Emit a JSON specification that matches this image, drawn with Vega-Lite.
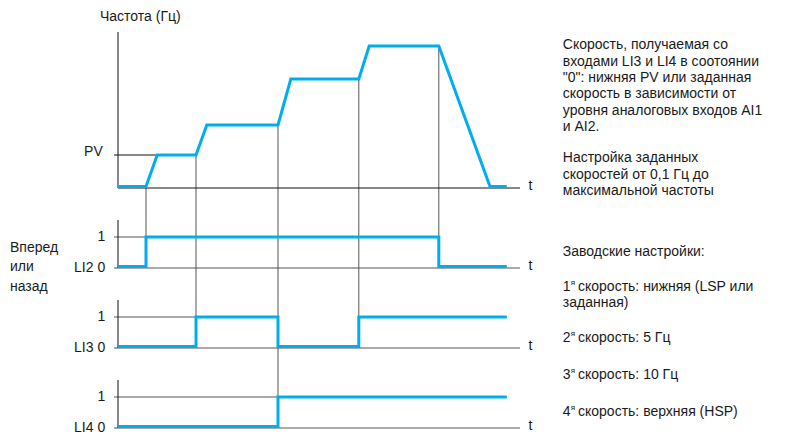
{
  "$schema": "https://vega.github.io/schema/vega-lite/v6.json",
  "padding": 0,
  "spacing": 0,
  "bounds": "flush",
  "background": "white",
  "config": {"view": {"stroke": null}, "text": {"font": "Liberation Sans", "fontSize": 14, "color": "#1a1a1a", "baseline": "middle"}},
  "vconcat": [
    {
      "width": 800, "height": 204,
      "encoding": {
        "x": {"field": "t", "type": "quantitative", "scale": {"domain": [-14.75, 85.25], "nice": false, "zero": false}, "axis": null},
        "y": {"field": "v", "type": "quantitative", "scale": {"domain": [-1.6, 18.8], "nice": false, "zero": false}, "axis": null}
      },
      "layer": [
        {"data": {"values": [{"t": 3.5, "t2": 3.5, "v": 0, "v2": -1.6}, {"t": 9.75, "t2": 9.75, "v": 3.3, "v2": -1.6}, {"t": 20, "t2": 20, "v": 6.3, "v2": -1.6}, {"t": 30.1, "t2": 30.1, "v": 10.9, "v2": -1.6}, {"t": 40.1, "t2": 40.1, "v": 14.2, "v2": -1.6}]},
         "mark": {"type": "rule", "color": "#555", "strokeWidth": 1},
         "encoding": {"x2": {"field": "t2"}, "y2": {"field": "v2"}}},
        {"data": {"values": [{"t": 0, "t2": 0, "v": 0, "v2": 15.6}, {"t": 0, "t2": 50.25, "v": 0, "v2": 0}, {"t": -0.5, "t2": 4.9, "v": 3.3, "v2": 3.3}]},
         "mark": {"type": "rule", "color": "#111", "strokeWidth": 1},
         "encoding": {"x2": {"field": "t2"}, "y2": {"field": "v2"}}},
        {"data": {"values": [{"i": 1, "t": 0, "v": 0.15}, {"i": 2, "t": 3.5, "v": 0.15}, {"i": 3, "t": 4.9, "v": 3.3}, {"i": 4, "t": 9.75, "v": 3.3}, {"i": 5, "t": 11.1, "v": 6.3}, {"i": 6, "t": 20, "v": 6.3}, {"i": 7, "t": 21.6, "v": 10.9}, {"i": 8, "t": 30.1, "v": 10.9}, {"i": 9, "t": 31.4, "v": 14.2}, {"i": 10, "t": 40.1, "v": 14.2}, {"i": 11, "t": 46.5, "v": 0.15}, {"i": 12, "t": 48.6, "v": 0.15}]},
         "mark": {"type": "line", "color": "#00adef", "strokeWidth": 3, "strokeJoin": "miter"},
         "encoding": {"order": {"field": "i", "type": "quantitative"}}},
        {"data": {"values": [{"t": -2.25, "v": 17.1, "label": "Частота (Гц)"}, {"t": 51.3, "v": 0.2, "label": "t"}, {"t": 55.6, "v": 14.3, "label": "Скорость, получаемая со"}, {"t": 55.6, "v": 12.6, "label": "входами LI3 и LI4 в соотоянии"}, {"t": 55.6, "v": 11.0, "label": "\"0\": нижняя PV или заданная"}, {"t": 55.6, "v": 9.4, "label": "скорость в зависимости от"}, {"t": 55.6, "v": 7.7, "label": "уровня аналоговых входов AI1"}, {"t": 55.6, "v": 6.1, "label": "и AI2."}, {"t": 55.6, "v": 3.0, "label": "Настройка заданных"}, {"t": 55.6, "v": 1.3, "label": "скоростей от 0,1 Гц до"}, {"t": 55.6, "v": -0.3, "label": "максимальной частоты"}]},
         "mark": {"type": "text", "align": "left"},
         "encoding": {"text": {"field": "label"}}},
        {"data": {"values": [{"t": -1.9, "v": 3.6, "label": "PV"}]},
         "mark": {"type": "text", "align": "right"},
         "encoding": {"text": {"field": "label"}}}
      ]
    },
    {
      "width": 800, "height": 80,
      "encoding": {
        "x": {"field": "t", "type": "quantitative", "scale": {"domain": [-14.75, 85.25], "nice": false, "zero": false}, "axis": null},
        "y": {"field": "v", "type": "quantitative", "scale": {"domain": [-0.516, 2.0645], "nice": false, "zero": false}, "axis": null}
      },
      "layer": [
        {"data": {"values": [{"t": 3.5, "t2": 3.5, "v": 2.0645, "v2": 1}, {"t": 9.75, "t2": 9.75, "v": 2.0645, "v2": -0.516}, {"t": 20, "t2": 20, "v": 2.0645, "v2": -0.516}, {"t": 30.1, "t2": 30.1, "v": 2.0645, "v2": -0.516}, {"t": 40.1, "t2": 40.1, "v": 2.0645, "v2": 1}, {"t": -0.5, "t2": 3.5, "v": 1, "v2": 1}, {"t": -0.5, "t2": 50.25, "v": 0, "v2": 0}]},
         "mark": {"type": "rule", "color": "#555", "strokeWidth": 1},
         "encoding": {"x2": {"field": "t2"}, "y2": {"field": "v2"}}},
        {"data": {"values": [{"t": 0, "t2": 0, "v": 0, "v2": 1.55}]},
         "mark": {"type": "rule", "color": "#111", "strokeWidth": 1},
         "encoding": {"x2": {"field": "t2"}, "y2": {"field": "v2"}}},
        {"data": {"values": [{"i": 1, "t": 0, "v": 0.05}, {"i": 2, "t": 3.5, "v": 0.05}, {"i": 3, "t": 3.5, "v": 1}, {"i": 4, "t": 40.1, "v": 1}, {"i": 5, "t": 40.1, "v": 0.05}, {"i": 6, "t": 48.6, "v": 0.05}]},
         "mark": {"type": "line", "color": "#00adef", "strokeWidth": 3, "strokeJoin": "miter"},
         "encoding": {"order": {"field": "i", "type": "quantitative"}}},
        {"data": {"values": [{"t": 51.3, "v": 0.05, "label": "t"}, {"t": -13.5, "v": 0.645, "label": "Вперед"}, {"t": -13.5, "v": 0.032, "label": "или"}, {"t": -13.5, "v": -0.613, "label": "назад"}, {"t": 55.6, "v": 0.516, "label": "Заводские настройки:"}]},
         "mark": {"type": "text", "align": "left"},
         "encoding": {"text": {"field": "label"}}},
        {"data": {"values": [{"t": -1.6, "v": 1, "label": "1"}, {"t": -1.6, "v": 0, "label": "LI2 0"}]},
         "mark": {"type": "text", "align": "right"},
         "encoding": {"text": {"field": "label"}}}
      ]
    },
    {
      "width": 800, "height": 80,
      "encoding": {
        "x": {"field": "t", "type": "quantitative", "scale": {"domain": [-14.75, 85.25], "nice": false, "zero": false}, "axis": null},
        "y": {"field": "v", "type": "quantitative", "scale": {"domain": [-0.516, 2.0645], "nice": false, "zero": false}, "axis": null}
      },
      "layer": [
        {"data": {"values": [{"t": 9.75, "t2": 9.75, "v": 2.0645, "v2": 1}, {"t": 20, "t2": 20, "v": 2.0645, "v2": -0.516}, {"t": 30.1, "t2": 30.1, "v": 2.0645, "v2": 1}, {"t": -0.5, "t2": 9.75, "v": 1, "v2": 1}, {"t": -0.5, "t2": 50.25, "v": 0, "v2": 0}]},
         "mark": {"type": "rule", "color": "#555", "strokeWidth": 1},
         "encoding": {"x2": {"field": "t2"}, "y2": {"field": "v2"}}},
        {"data": {"values": [{"t": 0, "t2": 0, "v": 0, "v2": 1.55}]},
         "mark": {"type": "rule", "color": "#111", "strokeWidth": 1},
         "encoding": {"x2": {"field": "t2"}, "y2": {"field": "v2"}}},
        {"data": {"values": [{"i": 1, "t": 0, "v": 0.05}, {"i": 2, "t": 9.75, "v": 0.05}, {"i": 3, "t": 9.75, "v": 1}, {"i": 4, "t": 20, "v": 1}, {"i": 5, "t": 20, "v": 0.05}, {"i": 6, "t": 30.1, "v": 0.05}, {"i": 7, "t": 30.1, "v": 1}, {"i": 8, "t": 48.6, "v": 1}]},
         "mark": {"type": "line", "color": "#00adef", "strokeWidth": 3, "strokeJoin": "miter"},
         "encoding": {"order": {"field": "i", "type": "quantitative"}}},
        {"data": {"values": [{"t": 51.3, "v": 0.05, "label": "t"}, {"t": 55.6, "v": 1.968, "label": "1"}, {"t": 57.5, "v": 1.968, "label": "скорость: нижняя (LSP или"}, {"t": 55.6, "v": 1.452, "label": "заданная)"}, {"t": 55.6, "v": 0.323, "label": "2"}, {"t": 57.5, "v": 0.323, "label": "скорость: 5 Гц"}]},
         "mark": {"type": "text", "align": "left"},
         "encoding": {"text": {"field": "label"}}},
        {"data": {"values": [{"t": 56.6, "v": 2.1, "label": "я"}, {"t": 56.6, "v": 0.455, "label": "я"}]},
         "mark": {"type": "text", "align": "left", "fontSize": 8},
         "encoding": {"text": {"field": "label"}}},
        {"data": {"values": [{"t": -1.6, "v": 1, "label": "1"}, {"t": -1.6, "v": 0, "label": "LI3 0"}]},
         "mark": {"type": "text", "align": "right"},
         "encoding": {"text": {"field": "label"}}}
      ]
    },
    {
      "width": 800, "height": 73,
      "encoding": {
        "x": {"field": "t", "type": "quantitative", "scale": {"domain": [-14.75, 85.25], "nice": false, "zero": false}, "axis": null},
        "y": {"field": "v", "type": "quantitative", "scale": {"domain": [-0.29, 2.0645], "nice": false, "zero": false}, "axis": null}
      },
      "layer": [
        {"data": {"values": [{"t": 20, "t2": 20, "v": 2.0645, "v2": 1}, {"t": -0.5, "t2": 20, "v": 1, "v2": 1}, {"t": -0.5, "t2": 50.25, "v": 0, "v2": 0}]},
         "mark": {"type": "rule", "color": "#555", "strokeWidth": 1},
         "encoding": {"x2": {"field": "t2"}, "y2": {"field": "v2"}}},
        {"data": {"values": [{"t": 0, "t2": 0, "v": 0, "v2": 1.55}]},
         "mark": {"type": "rule", "color": "#111", "strokeWidth": 1},
         "encoding": {"x2": {"field": "t2"}, "y2": {"field": "v2"}}},
        {"data": {"values": [{"i": 1, "t": 0, "v": 0.05}, {"i": 2, "t": 20, "v": 0.05}, {"i": 3, "t": 20, "v": 1}, {"i": 4, "t": 48.6, "v": 1}]},
         "mark": {"type": "line", "color": "#00adef", "strokeWidth": 3, "strokeJoin": "miter"},
         "encoding": {"order": {"field": "i", "type": "quantitative"}}},
        {"data": {"values": [{"t": 51.3, "v": 0.05, "label": "t"}, {"t": 55.6, "v": 1.71, "label": "3"}, {"t": 57.5, "v": 1.71, "label": "скорость: 10 Гц"}, {"t": 55.6, "v": 0.516, "label": "4"}, {"t": 57.5, "v": 0.516, "label": "скорость: верхняя (HSP)"}]},
         "mark": {"type": "text", "align": "left"},
         "encoding": {"text": {"field": "label"}}},
        {"data": {"values": [{"t": 56.6, "v": 1.84, "label": "я"}, {"t": 56.6, "v": 0.646, "label": "я"}]},
         "mark": {"type": "text", "align": "left", "fontSize": 8},
         "encoding": {"text": {"field": "label"}}},
        {"data": {"values": [{"t": -1.6, "v": 1, "label": "1"}, {"t": -1.6, "v": 0, "label": "LI4 0"}]},
         "mark": {"type": "text", "align": "right"},
         "encoding": {"text": {"field": "label"}}}
      ]
    }
  ]
}
